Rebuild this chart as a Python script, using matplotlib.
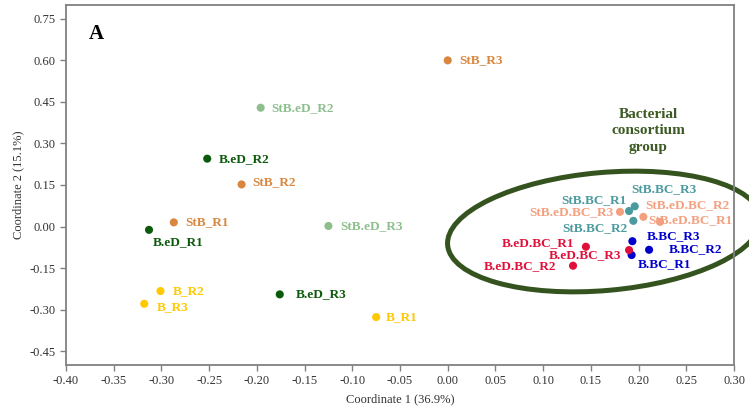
"""
PCoA scatter of bacterial treatment samples (panel A).
"""

import matplotlib
matplotlib.use('Agg')
import matplotlib.pyplot as plt
from matplotlib.patches import Ellipse
from matplotlib.transforms import ScaledTranslation

# ── Data ──────────────────────────────────────────────────────────────────────
labels = [
    'B_R1', 'B_R2', 'B_R3',
    'B.eD_R1', 'B.eD_R2', 'B.eD_R3',
    'StB_R1', 'StB_R2', 'StB_R3',
    'StB.eD_R2', 'StB.eD_R3',
    'StB.BC_R1', 'StB.BC_R2', 'StB.BC_R3',
    'StB.eD.BC_R1', 'StB.eD.BC_R2', 'StB.eD.BC_R3',
    'B.BC_R1', 'B.BC_R2', 'B.BC_R3',
    'B.eD.BC_R1', 'B.eD.BC_R2', 'B.eD.BC_R3',
]
coord1 = [
    -0.075, -0.301, -0.318,
    -0.313, -0.252, -0.176,
    -0.287, -0.216, 0.000,
    -0.196, -0.125,
    0.190, 0.1945, 0.196,
    0.2225, 0.205, 0.1805,
    0.1927, 0.211, 0.1935,
    0.1448, 0.1313, 0.190,
]
coord2 = [
    -0.327, -0.233, -0.279,
    -0.012, 0.245, -0.245,
    0.015, 0.152, 0.600,
    0.429, 0.002,
    0.056, 0.0205, 0.073,
    0.017, 0.035, 0.053,
    -0.103, -0.084, -0.053,
    -0.073, -0.1415, -0.085,
]
xticks = [-0.40, -0.35, -0.30, -0.25, -0.20, -0.15, -0.10, -0.05,
          0.00, 0.05, 0.10, 0.15, 0.20, 0.25, 0.30]
yticks = [-0.45, -0.30, -0.15, 0.00, 0.15, 0.30, 0.45, 0.60, 0.75]

# group colours
COLORS = {
    'B': '#FFC800',
    'B.eD': '#0B5A0B',
    'StB': '#D9873E',
    'StB.eD': '#8DBF8D',
    'StB.BC': '#4A9A9E',
    'StB.eD.BC': '#F4A07E',
    'B.BC': '#0000CD',
    'B.eD.BC': '#E0103A',
}

# label placement: (dx px, dy px, ha)
LABEL_POS = {
    'B_R1': (10, 0, 'left'), 'B_R2': (12, 0, 'left'), 'B_R3': (13, -3, 'left'),
    'B.eD_R1': (4, -12, 'left'), 'B.eD_R2': (12, 0, 'left'), 'B.eD_R3': (16, 0, 'left'),
    'StB_R1': (11, 0, 'left'), 'StB_R2': (11, 2, 'left'), 'StB_R3': (12, 0, 'left'),
    'StB.eD_R2': (11, 0, 'left'), 'StB.eD_R3': (12, 0, 'left'),
    'StB.BC_R1': (-2, 11, 'right'), 'StB.BC_R2': (-6, -7, 'right'),
    'StB.BC_R3': (-3, 17, 'left'),
    'StB.eD.BC_R1': (-12, 2, 'left'), 'StB.eD.BC_R2': (2, 12, 'left'),
    'StB.eD.BC_R3': (-6, 0, 'right'),
    'B.BC_R1': (6, -9, 'left'), 'B.BC_R2': (20, 1, 'left'), 'B.BC_R3': (14, 5, 'left'),
    'B.eD.BC_R1': (-12, 4, 'right'), 'B.eD.BC_R2': (-17, 0, 'right'),
    'B.eD.BC_R3': (-8, -5, 'right'),
}

plt.rcParams['font.family'] = ['Liberation Serif', 'DejaVu Serif']

fig = plt.figure(figsize=(7.49, 4.15), dpi=100)
ax = fig.add_axes([0.0881, 0.1205, 0.8919, 0.8675])

for name, x, y in zip(labels, coord1, coord2):
    group = name.rsplit('_', 1)[0]
    c = COLORS[group]
    ax.scatter(x, y, s=34, color=c, edgecolors='none', zorder=3)
    dx, dy, ha = LABEL_POS[name]
    ax.annotate(name, (x, y), xytext=(dx, dy), textcoords='offset pixels',
                ha=ha, va='center', fontsize=9.5, fontweight='bold', color=c,
                zorder=4)

# consortium ellipse (size in inches, centred in data coords)
ell = Ellipse((0, 0), 3.14, 1.18, angle=5, fill=False, edgecolor='#35531F',
              linewidth=3.6, clip_on=False,
              transform=fig.dpi_scale_trans + ScaledTranslation(0.1638, -0.018, ax.transData))
ax.add_artist(ell)

ax.text(0.210, 0.345, 'Bacterial\nconsortium\ngroup', ha='center', va='center',
        fontsize=11, fontweight='bold', color='#3D5A24', linespacing=1.35)
ax.text(0.046, 0.919, 'A', transform=ax.transAxes, ha='center', va='center',
        fontsize=15, fontweight='bold', color='black')

ax.set_xlim(-0.40, 0.30)
ax.set_ylim(-0.50, 0.80)
ax.set_xticks(xticks)
ax.set_yticks(yticks)
ax.set_xticklabels([f'{v:.2f}' for v in xticks])
ax.set_yticklabels([f'{v:.2f}' for v in yticks])
ax.tick_params(labelsize=9, colors='#808080', labelcolor='#333333', length=4, width=1)

for sp in ax.spines.values():
    sp.set_color('#808080')
    sp.set_linewidth(1.3)

ax.set_xlabel('Coordinate 1 (36.9%)', fontsize=9, color='#333333', labelpad=4)
ax.set_ylabel('Coordinate 2 (15.1%)', fontsize=9, color='#333333', labelpad=4)

fig.savefig('out.png', dpi=100)
